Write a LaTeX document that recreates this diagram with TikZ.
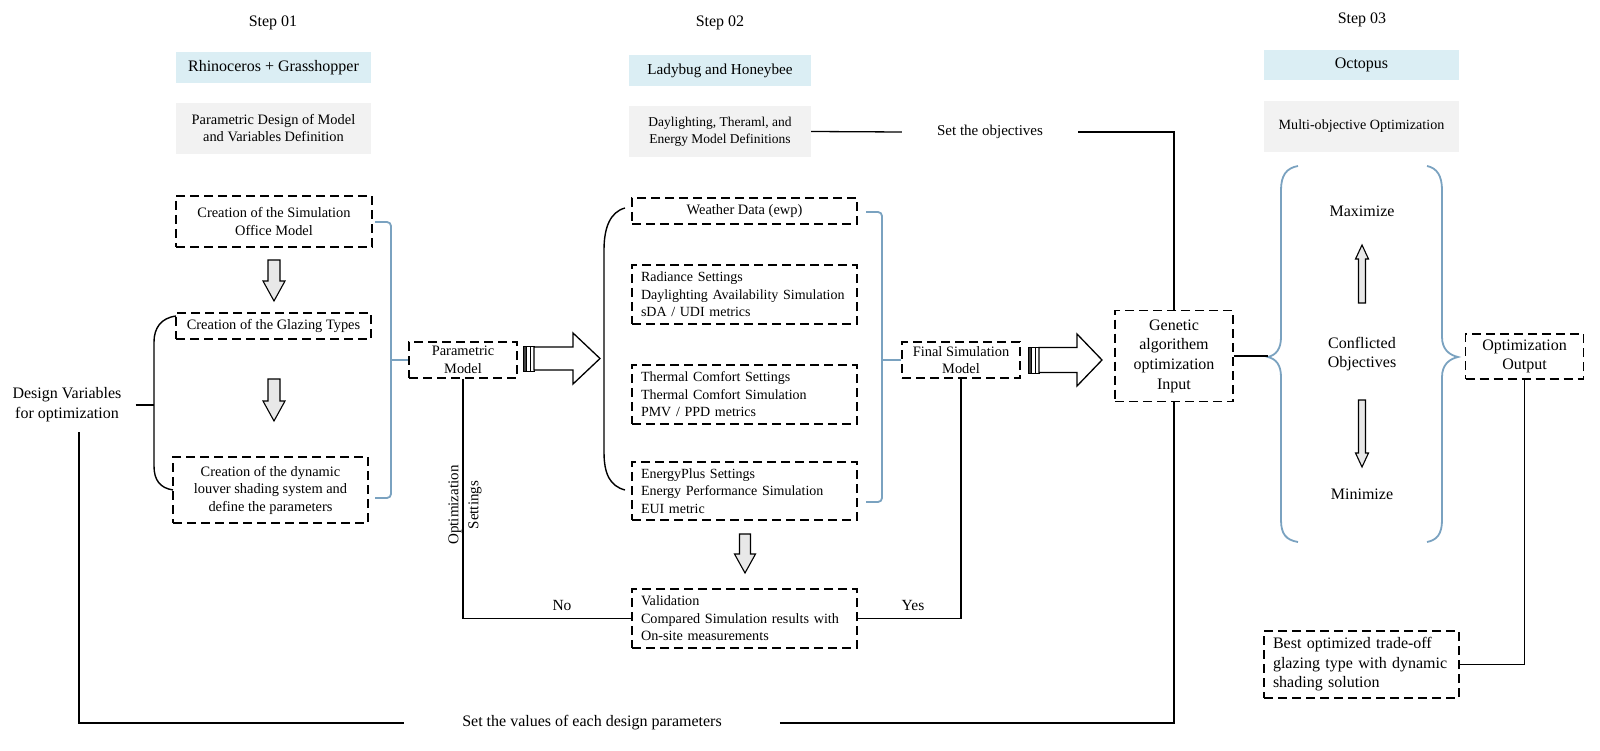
\documentclass[tikz,border=0pt]{standalone}
\usepackage{fontspec}
\setmainfont{Liberation Serif}
\usetikzlibrary{calc}
\definecolor{bluefill}{RGB}{219,238,244}
\definecolor{grayfill}{RGB}{242,242,242}
\definecolor{bracecol}{RGB}{122,162,192}
\definecolor{arrowfill}{RGB}{232,232,232}
\newcommand{\fs}[2]{\fontsize{#1}{#2}\selectfont}
\newcommand{\downblk}[6]{%
  \draw[barrow] (#1-#4,#2) -- (#1+#4,#2) -- (#1+#4,#3-#6) -- (#1+#5,#3-#6) -- (#1,#3) -- (#1-#5,#3-#6) -- (#1-#4,#3-#6) -- cycle;}
\newcommand{\upblk}[6]{%
  \draw[barrow] (#1-#4,#3) -- (#1+#4,#3) -- (#1+#4,#2+#6) -- (#1+#5,#2+#6) -- (#1,#2) -- (#1-#5,#2+#6) -- (#1-#4,#2+#6) -- cycle;}
\newcommand{\rightblk}[6]{%
  \draw[bigarrow] (#1,#3-#4) -- (#2-#6,#3-#4) -- (#2-#6,#3-#5) -- (#2,#3) -- (#2-#6,#3+#5) -- (#2-#6,#3+#4) -- (#1,#3+#4) -- cycle;}
\newcommand{\stripes}[3]{%
  \fill[black!75] (#1,#2) rectangle (#1+3.5,#3);
  \draw[line width=0.9pt] (#1,#2) rectangle (#1+11,#3);
  \draw[line width=0.9pt] (#1+3.5,#2) -- (#1+3.5,#3);
  \draw[line width=0.9pt] (#1+7,#2) -- (#1+7,#3);}
\tikzset{
  every node/.style={font=\fs{16}{19}},
  toolbox/.style={fill=bluefill, inner sep=0pt, align=center},
  defbox/.style={fill=grayfill, inner sep=0pt, align=center},
  dbox/.style={draw, line width=1.5pt, dash pattern=on 9pt off 5pt, inner sep=0pt, align=center, font=\fs{14.4}{17.5}},
  dboxl/.style={dbox, align=left, inner xsep=9pt},
  link/.style={line width=1.3pt},
  blk/.style={line width=1.4pt},
  bluebrace/.style={draw=bracecol, line width=1.8pt},
  barrow/.style={draw, line width=1.1pt, fill=arrowfill, line join=miter},
  bigarrow/.style={draw, line width=1.3pt, fill=white, line join=miter},
}
\begin{document}
\begin{tikzpicture}[x=1pt, y=-1pt]
\useasboundingbox (0,0) rectangle (1600,751);

% Step headers
\node (step1) at (273,23) {Step 01};
\node (step2) at (720,23) {Step 02};
\node (step3) at (1362,20) {Step 03};

% tool boxes
\node[toolbox, minimum width=195pt, minimum height=31pt] (tool1) at (273.5,67.5) {Rhinoceros + Grasshopper};
\node[defbox, minimum width=195pt, minimum height=51pt, font=\fs{14.4}{17}] (def1) at (273.5,128.5) {Parametric Design of Model\\and Variables Definition};
\node[toolbox, minimum width=182pt, minimum height=31pt, font=\fs{15.2}{18}] (tool2) at (720,70.5) {Ladybug and Honeybee};
\node[defbox, minimum width=182pt, minimum height=51pt, font=\fs{13.5}{17}] (def2) at (720,131.5) {Daylighting, Theraml, and\\Energy Model Definitions};
\node[toolbox, minimum width=195pt, minimum height=30pt] (tool3) at (1361.5,65) {Octopus};
\node[defbox, minimum width=195pt, minimum height=51pt, font=\fs{14.1}{17}] (def3) at (1361.5,126.5) {Multi-objective Optimization};

% Step 01 boxes
\node[dbox, minimum width=196pt, minimum height=51pt] (office) at (274,221.5) {Creation of the Simulation\\Office Model};
\node[dbox, minimum width=195pt, minimum height=26pt] (glazing) at (273.5,326) {Creation of the Glazing Types};
\node[dbox, minimum width=195pt, minimum height=66pt] (louver) at (270.5,490) {Creation of the dynamic\\louver shading system and\\define the parameters};
\node[dbox, minimum width=108pt, minimum height=36pt] (param) at (463,360) {Parametric\\Model};

\node[align=center, font=\fs{16}{20}, inner xsep=14pt] (design) at (67,405) {Design Variables\\for optimization};

% Step 02 boxes
\node[dbox, minimum width=225pt, minimum height=26pt] (weather) at (744.5,211) {Weather Data (ewp)};
\node[dboxl, text width=207pt, minimum height=59pt, font=\fs{14}{17.5}] (radiance) at (744.5,294.5) {Radiance Settings\\Daylighting Availability Simulation\\sDA / UDI metrics};
\node[dboxl, text width=207pt, minimum height=59pt, font=\fs{14}{17.5}] (thermal) at (744.5,394.5) {Thermal Comfort Settings\\Thermal Comfort Simulation\\PMV / PPD metrics};
\node[dboxl, text width=207pt, minimum height=58pt, font=\fs{14}{17.5}] (energy) at (744.5,491) {EnergyPlus Settings\\Energy Performance Simulation\\EUI metric};
\node[dboxl, text width=207pt, minimum height=59pt, font=\fs{14.2}{17.5}] (validation) at (744.5,618.5) {Validation\\Compared Simulation results with\\On-site measurements};
\node[dbox, minimum width=118pt, minimum height=36pt] (final) at (961,360) {Final Simulation\\Model};

% Step 03 boxes
\node[dbox, minimum width=118pt, minimum height=91pt, font=\fs{16}{19.7}] (genetic) at (1174,356) {Genetic\\algorithem\\optimization\\Input};
\node[dbox, minimum width=118pt, minimum height=45pt, font=\fs{16}{19}] (output) at (1524.5,356.5) {Optimization\\Output};
\node[dboxl, text width=177pt, minimum height=67pt, font=\fs{16}{19.5}] (best) at (1361.5,664.5) {Best optimized trade-off\\glazing type with dynamic\\shading solution};

% objectives text
\node (maxi) at (1362,211) {Maximize};
\node[align=center, font=\fs{16}{18.5}] (confl) at (1362,354) {Conflicted\\Objectives};
\node (mini) at (1362,494) {Minimize};

% labels on connectors
\node[font=\fs{15}{18}, inner xsep=35pt] (setobj) at (990,132) {Set the objectives};
\node[inner xsep=58pt] (setvals) at (592,723) {Set the values of each design parameters};
\node[font=\fs{15.5}{18}] (nolab) at (562,605) {No};
\node[font=\fs{15.5}{18}] (yeslab) at (913,605) {Yes};
\node[rotate=90, align=center, font=\fs{15}{20}] (optset) at (465,505) {Optimization\\Settings};

% small block arrows
\downblk{274}{260}{301}{6}{11}{20}
\downblk{274}{379}{421}{6}{11}{20}
\downblk{745}{534}{573}{5.5}{10.5}{19}
\upblk{1362}{245}{303}{3.5}{6.5}{14}
\downblk{1362}{400}{467}{3.5}{6.5}{14}

% big block arrows with stripes
\stripes{523}{346}{371}
\rightblk{534}{600}{358.5}{11.5}{25.5}{27}
\stripes{1028}{347}{373}
\rightblk{1039}{1102}{360}{12.5}{26}{25}

% black braces
\draw[blk] (176,316) .. controls (161,318) and (154,328) .. (154,342) -- (154,466) .. controls (154,480) and (160,488) .. (173,490);
\draw[link] (design.east) -- (154,405);
\draw[blk] (625,208) .. controls (610,212) and (604,228) .. (604,250) -- (604,452) .. controls (604,474) and (610,486) .. (625,490);

% blue braces
\draw[bluebrace, rounded corners=4pt] (375,222) -- (391,222) -- (391,498) -- (375,498);
\draw[bluebrace] (391,360) -- (param.west);
\draw[bluebrace, rounded corners=4pt] (866,212) -- (882,212) -- (882,502) -- (866,502);
\draw[bluebrace] (882,360) -- (final.west);
\draw[bluebrace] (1298,166) .. controls (1286,168) and (1281,176) .. (1281,190) -- (1281,337) .. controls (1281,349) and (1276,355) .. (1268,357) .. controls (1276,359) and (1281,365) .. (1281,377) -- (1281,520) .. controls (1281,534) and (1286,540) .. (1298,542);
\draw[bluebrace] (1427,166) .. controls (1437,168) and (1442,176) .. (1442,190) -- (1442,337) .. controls (1442,349) and (1449,355) .. (1458,357) .. controls (1449,359) and (1442,365) .. (1442,377) -- (1442,520) .. controls (1442,534) and (1437,540) .. (1427,542);

% connectors
\coordinate (dvb) at (79,432);
\coordinate (gtip) at (1268,356);
\draw[link] (dvb) |- (setvals.west);
\draw[link] (setvals.east) -| (genetic.south);
\draw[link] (def2.east) -- (setobj.west);
\draw[link] (setobj.east) -| (genetic.north);
\draw[link] (genetic.east) -- (gtip);
\draw[link] (param.south) |- (validation.west);
\draw[link] (validation.east) -| (final.south);
\draw[link] (output.south) |- (best.east);
\end{tikzpicture}
\end{document}
